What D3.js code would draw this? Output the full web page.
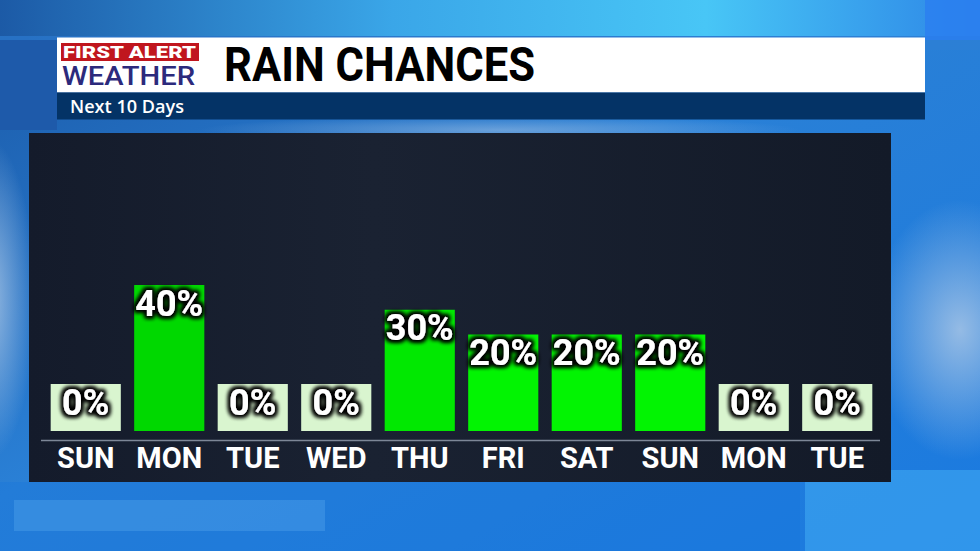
<!DOCTYPE html>
<html><head><meta charset="utf-8">
<script src="https://cdn.jsdelivr.net/npm/d3@7"></script>
<style>html,body{margin:0;padding:0;background:#1a6ad0;overflow:hidden}</style>
</head><body>
<svg id="c" width="980" height="551"></svg>
<script>
const days = ["SUN","MON","TUE","WED","THU","FRI","SAT","SUN","MON","TUE"];
const chances = [0,40,0,0,30,20,20,20,0,0];
const titleText = "RAIN CHANCES";
const subtitleText = "Next 10 Days";

const svg = d3.select("#c");
const defs = svg.append("defs");

const bg = defs.append("linearGradient").attr("id","bg").attr("x1",0).attr("y1",0).attr("x2",1).attr("y2",1);
bg.append("stop").attr("offset",0).attr("stop-color","#1b5aa8");
bg.append("stop").attr("offset",0.45).attr("stop-color","#2a80d6");
bg.append("stop").attr("offset",1).attr("stop-color","#1a7ae0");
const topg = defs.append("linearGradient").attr("id","topg").attr("x1",0).attr("y1",0).attr("x2",1).attr("y2",0);
topg.append("stop").attr("offset",0).attr("stop-color","#1c5aa6");
topg.append("stop").attr("offset",0.4).attr("stop-color","#3aa6e8");
topg.append("stop").attr("offset",0.72).attr("stop-color","#48c6f6");
topg.append("stop").attr("offset",1).attr("stop-color","#2d86e6");
const cloudR = defs.append("radialGradient").attr("id","cloudR");
cloudR.append("stop").attr("offset",0).attr("stop-color","#a9c6e6").attr("stop-opacity",0.85);
cloudR.append("stop").attr("offset",1).attr("stop-color","#a9c6e6").attr("stop-opacity",0);
const panelG = defs.append("linearGradient").attr("id","panelG").attr("x1",0).attr("y1",0).attr("x2",1).attr("y2",0);
panelG.append("stop").attr("offset",0).attr("stop-color","#141b2b");
panelG.append("stop").attr("offset",0.4).attr("stop-color","#1a2232");
panelG.append("stop").attr("offset",1).attr("stop-color","#131a28");

const glow = defs.append("filter").attr("id","glow").attr("x","-20%").attr("y","-20%").attr("width","140%").attr("height","140%");
glow.append("feMorphology").attr("in","SourceAlpha").attr("operator","dilate").attr("radius",1.8).attr("result","d");
glow.append("feGaussianBlur").attr("in","d").attr("stdDeviation",2).attr("result","b");
glow.append("feFlood").attr("flood-color","#000").attr("flood-opacity",1).attr("result","f");
glow.append("feComposite").attr("in","f").attr("in2","b").attr("operator","in").attr("result","s");
const m = glow.append("feMerge");
m.append("feMergeNode").attr("in","s");
m.append("feMergeNode").attr("in","s");
m.append("feMergeNode").attr("in","SourceGraphic");

// background
svg.append("rect").attr("width",980).attr("height",551).attr("fill","url(#bg)");
svg.append("rect").attr("width",980).attr("height",36).attr("fill","url(#topg)");
svg.append("rect").attr("x",0).attr("y",36).attr("width",980).attr("height",14).attr("fill","#2f7fd4").attr("opacity",0.6);
svg.append("rect").attr("x",0).attr("y",40).attr("width",57).attr("height",90).attr("fill","#1e5aaa");
svg.append("ellipse").attr("cx",-10).attr("cy",300).attr("rx",45).attr("ry",160).attr("fill","url(#cloudR)");
svg.append("ellipse").attr("cx",960).attr("cy",330).attr("rx",90).attr("ry",130).attr("fill","url(#cloudR)");
svg.append("ellipse").attr("cx",500).attr("cy",130).attr("rx",300).attr("ry",14).attr("fill","url(#cloudR)").attr("opacity",0.6);
svg.append("rect").attr("x",925).attr("y",0).attr("width",55).attr("height",40).attr("fill","#2a7ef0").attr("opacity",0.8);
svg.append("rect").attr("x",805).attr("y",470).attr("width",175).attr("height",81).attr("fill","#3aa2f0").attr("opacity",0.7);
svg.append("rect").attr("x",14).attr("y",500).attr("width",311).attr("height",31).attr("fill","#5aa8ea").attr("opacity",0.6);
svg.append("rect").attr("x",0).attr("y",482).attr("width",800).attr("height",69).attr("fill","#1676dc").attr("opacity",0.35);

// header
svg.append("rect").attr("x",57).attr("y",37.5).attr("width",868).attr("height",55).attr("fill","#ffffff");
svg.append("rect").attr("x",57).attr("y",92.5).attr("width",868).attr("height",27).attr("fill","#043366");
svg.append("rect").attr("x",61).attr("y",43).attr("width",138).attr("height",18).attr("fill","#c0161e");
svg.append("text").attr("x",63).attr("y",57.5).attr("font-family","Roboto, sans-serif").attr("font-weight",900)
  .attr("font-size",16).attr("fill","#fff").attr("textLength",133).attr("lengthAdjust","spacingAndGlyphs").text("FIRST ALERT");
svg.append("text").attr("x",62).attr("y",85).attr("font-family","Roboto, sans-serif").attr("font-weight",500)
  .attr("font-size",25).attr("fill","#2c2a7c").attr("textLength",133).attr("lengthAdjust","spacingAndGlyphs").text("WEATHER");
svg.append("text").attr("x",224).attr("y",81).attr("font-family","Roboto, sans-serif").attr("font-weight",700)
  .attr("font-size",48).attr("fill","#000").attr("textLength",311).attr("lengthAdjust","spacingAndGlyphs").text(titleText);
svg.append("text").attr("x",70).attr("y",112.5).attr("font-family","'Open Sans', sans-serif").attr("font-weight",600)
  .attr("font-size",18.5).attr("fill","#fff").attr("textLength",114).attr("lengthAdjust","spacingAndGlyphs").text(subtitleText);

// panel
svg.append("rect").attr("x",29).attr("y",133).attr("width",862).attr("height",349).attr("fill","url(#panelG)");

// scales
const idx = d3.range(days.length);
const x = d3.scaleBand().domain(idx).range([44,879]).paddingInner(0.16).paddingOuter(0.08);
const y = d3.scaleLinear().domain([0,40]).range([384,285]);
const base = 431;
const color = v => v === 0 ? "#d9f5cf" : d3.scaleLinear().domain([20,30,40]).range(["#02f402","#01e801","#00d800"])(v);

const g = svg.append("g");
g.selectAll("rect.bar").data(chances).join("rect").attr("class","bar")
  .attr("x",(d,i)=>x(i)).attr("width",x.bandwidth())
  .attr("y",d=>y(d)).attr("height",d=>base-y(d)).attr("fill",d=>color(d));

g.selectAll("text.val").data(chances).join("text").attr("class","val")
  .attr("x",(d,i)=>x(i)+x.bandwidth()/2).attr("y",d=>y(d)+30.5)
  .attr("text-anchor","middle").attr("font-family","Roboto, sans-serif").attr("font-weight",700)
  .attr("font-size",36).attr("fill","#fff").attr("filter","url(#glow)")
  .text(d=>d+"%");

// axis
const ax = svg.append("g").attr("transform","translate(0,440.5)")
  .call(d3.axisBottom(x).tickSize(0).tickFormat(i=>days[i]));
ax.select(".domain").attr("stroke","#7d8797").attr("stroke-width",1.5).attr("d","M41,0H880");
ax.selectAll("text").attr("y",27.5).attr("dy",0).attr("fill","#fff")
  .attr("font-family","Roboto, sans-serif").attr("font-weight",700).attr("font-size",29);
</script>
</body></html>
